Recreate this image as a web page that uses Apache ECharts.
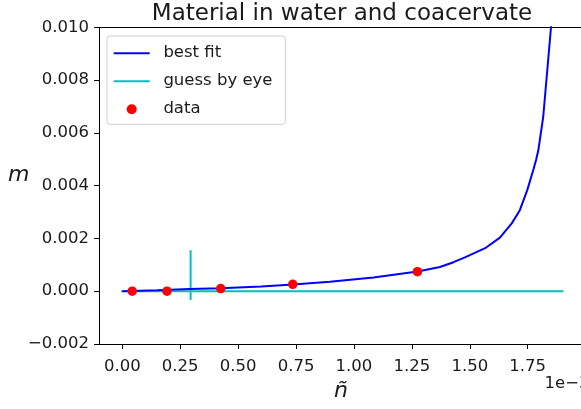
<!DOCTYPE html>
<html>
<head>
<meta charset="utf-8">
<script src="https://cdn.jsdelivr.net/npm/echarts@6/dist/echarts.min.js"></script>
<style>
  html, body { margin: 0; padding: 0; background: #fff; }
  #chart { width: 581px; height: 409px; }
</style>
</head>
<body>
<div id="chart"></div>
<script>
// n values are in units of 1e-3 (the axis carries a "1e−3" offset label)
const fitN = [0.00, 0.15, 0.29, 0.425, 0.60, 0.738, 0.896, 1.084, 1.275, 1.371, 1.430, 1.479, 1.566, 1.630, 1.681, 1.716, 1.748, 1.774, 1.786, 1.796, 1.817, 1.857];
const fitM = [0.0, 0.00004, 0.000083, 0.000114, 0.00018, 0.00025, 0.00036, 0.00052, 0.00075, 0.00092, 0.00110, 0.00128, 0.00163, 0.00203, 0.00257, 0.00307, 0.00383, 0.00459, 0.00497, 0.00535, 0.00661, 0.01065];

const guessN = [0.0, 0.295, 0.295, 0.295, 0.295, 1.9];
const guessM = [0.0, 0.0, 0.00155, -0.00033, 0.0, 0.0];

const dataN = [0.043, 0.193, 0.425, 0.736, 1.274];
const dataM = [0.0, 0.0, 0.0001, 0.00026, 0.00074];

const xTicks = [0, 0.25, 0.5, 0.75, 1.0, 1.25, 1.5, 1.75];

const zip = (a, b) => a.map((v, i) => [v, b[i]]);
const FONT = 'DejaVu Sans';
const TXT = '#1a1a1a';
const X_MIN = -0.1, X_MAX = 1.98;
// horizontal stroke used as the legend key for the two line series
const LINE_ICON = 'path://M0,0 L36,0 L36,2 L0,2 Z';

const chart = echarts.init(document.getElementById('chart'), null, { renderer: 'canvas' });

chart.setOption({
  animation: false,
  backgroundColor: '#fff',
  title: {
    text: 'Material in water and coacervate',
    left: 342,
    textAlign: 'center',
    top: 2.5,
    padding: 0,
    textStyle: { fontFamily: FONT, fontSize: 23, fontWeight: 'normal', color: TXT }
  },
  legend: {
    orient: 'vertical',
    left: 107,
    top: 36,
    padding: [7.2, 13, 5.1, 6.7],
    itemWidth: 36,
    itemHeight: 10,
    itemGap: 8,
    backgroundColor: 'rgba(255,255,255,0.8)',
    borderColor: '#d0d0d0',
    borderWidth: 1,
    borderRadius: 3,
    textStyle: { fontFamily: FONT, fontSize: 16.5, color: TXT, lineHeight: 20, padding: [0, 0, 0, 8.7] },
    data: [
      { name: 'best fit', icon: LINE_ICON },
      { name: 'guess by eye', icon: LINE_ICON },
      { name: 'data', icon: 'circle' }
    ]
  },
  grid: {
    left: 99.1,
    top: 27.3,
    width: 481.9,
    height: 316.7,
    show: false
  },
  xAxis: [
    {
      type: 'value',
      min: X_MIN,
      max: X_MAX,
      axisLine: { show: true, onZero: false, lineStyle: { color: '#000', width: 1 } },
      axisTick: { show: true, length: 5, lineStyle: { color: '#000' }, customValues: xTicks },
      axisLabel: {
        fontFamily: FONT, fontSize: 16.5, color: TXT, margin: 14,
        customValues: xTicks,
        formatter: v => v.toFixed(2)
      },
      splitLine: { show: false }
    },
    {
      // top frame edge
      type: 'value',
      position: 'top',
      min: X_MIN,
      max: X_MAX,
      axisLine: { show: true, onZero: false, lineStyle: { color: '#000', width: 1 } },
      axisTick: { show: false },
      axisLabel: { show: false },
      splitLine: { show: false }
    }
  ],
  yAxis: {
    type: 'value',
    min: -0.002,
    max: 0.010,
    interval: 0.002,
    axisLine: { show: true, onZero: false, lineStyle: { color: '#000', width: 1 } },
    axisTick: { show: true, length: 5, lineStyle: { color: '#000' } },
    axisLabel: {
      fontFamily: FONT, fontSize: 16.5, color: TXT, margin: 10,
      formatter: v => v.toFixed(3).replace('-', '\u2212')
    },
    splitLine: { show: false }
  },
  graphic: [
    {
      type: 'text', left: 8, top: 164, silent: true,
      style: { text: 'm', fontFamily: FONT, fontStyle: 'italic', fontSize: 22, fill: TXT }
    },
    {
      type: 'text', left: 334, top: 380, silent: true,
      style: { text: 'ñ', fontFamily: FONT, fontStyle: 'italic', fontSize: 22, fill: TXT }
    },
    {
      type: 'text', left: 544.5, top: 375, silent: true,
      style: { text: '1e\u22123', fontFamily: FONT, fontSize: 16.5, fill: TXT }
    }
  ],
  series: [
    {
      name: 'guess by eye',
      type: 'line',
      data: zip(guessN, guessM),
      symbol: 'none',
      color: '#00bfbf',
      lineStyle: { color: '#00bfbf', width: 2, cap: 'square' },
      z: 2
    },
    {
      name: 'best fit',
      type: 'line',
      data: zip(fitN, fitM),
      symbol: 'none',
      clip: true,
      color: '#0000ff',
      lineStyle: { color: '#0000ff', width: 2 },
      z: 3
    },
    {
      name: 'data',
      type: 'scatter',
      data: zip(dataN, dataM),
      symbol: 'circle',
      symbolSize: 9.5,
      color: '#ff0000',
      itemStyle: { color: '#ff0000', opacity: 1 },
      z: 4
    }
  ]
});
</script>
</body>
</html>
